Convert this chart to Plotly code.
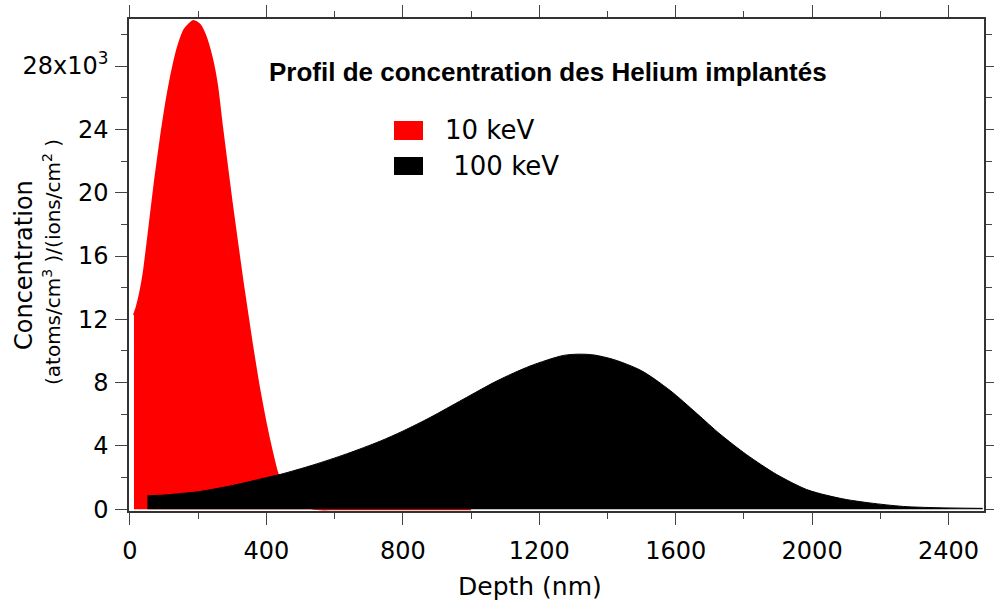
import plotly.graph_objects as go

# Implantation depth profiles (depth in nm, concentration in units of 10^3)
depth_10kev = [11.7, 20, 30, 40, 54, 73, 93, 112, 130, 142, 160, 186, 205, 220, 240,
               255, 269, 298, 330, 357, 376, 396, 415, 433, 460, 500, 530, 557, 600,
               700, 800, 900, 1000]
conc_10kev = [12.27, 12.8, 13.7, 14.9, 17.3, 20.7, 23.85, 26.4, 28.3, 29.3, 30.3, 30.85,
              30.6, 29.96, 28.5, 26.8, 24.3, 19.4, 14.4, 10.5, 7.96, 5.64, 3.75, 2.23,
              1.2, 0.35, 0.08, 0.0, 0.0, 0.0, 0.0, 0.0, 0.0]

depth_100kev = [51, 100, 150, 200, 300, 400, 440, 537, 635, 733, 801, 880, 977, 1075,
                1173, 1271, 1320, 1360, 1420, 1500, 1584, 1662, 1730, 1808, 1896, 1984,
                2040, 2100, 2170, 2268, 2366, 2500]
conc_100kev = [0.86, 0.9, 1.0, 1.11, 1.5, 2.0, 2.2, 2.8, 3.5, 4.3, 4.95, 5.8, 6.95,
               8.1, 9.05, 9.72, 9.8, 9.75, 9.45, 8.75, 7.5, 6.05, 4.75, 3.45, 2.2,
               1.25, 0.9, 0.62, 0.4, 0.18, 0.1, 0.06]

x_ticks = [0, 400, 800, 1200, 1600, 2000, 2400]
y_ticks = [0, 4, 8, 12, 16, 20, 24, 28]
y_ticktext = ["0", "4", "8", "12", "16", "20", "24", "28x10<sup>3</sup>"]

series_names = ["10 keV", " 100 keV"]
series_colors = ["#ff0000", "#000000"]

FONT = "DejaVu Sans"

fig = go.Figure()
fig.add_trace(go.Scatter(
    x=depth_10kev, y=conc_10kev, mode="lines", fill="tozeroy",
    line=dict(color=series_colors[0], width=2, shape="spline", smoothing=0.6),
    fillcolor=series_colors[0], showlegend=False, name=series_names[0]))
fig.add_trace(go.Scatter(
    x=depth_100kev, y=conc_100kev, mode="lines", fill="tozeroy",
    line=dict(color=series_colors[1], width=1, shape="spline", smoothing=0.8),
    fillcolor=series_colors[1], showlegend=False, name=series_names[1]))

axis_common = dict(
    showline=True, linecolor="#333333", linewidth=1.5, mirror="ticks",
    ticks="outside", ticklen=12, tickwidth=1, tickcolor="#444444",
    showgrid=False, zeroline=False,
    tickfont=dict(family=FONT, size=24, color="black"),
)

fig.update_xaxes(
    range=[-2.9, 2504], tickvals=x_ticks, ticklabelstandoff=5,
    minor=dict(dtick=200, ticks="outside", ticklen=6, tickcolor="#444444", showgrid=False),
    **axis_common)
fig.update_yaxes(
    range=[-0.107, 30.97], tickvals=y_ticks, ticktext=y_ticktext, ticklabelstandoff=2,
    minor=dict(dtick=2, ticks="outside", ticklen=6, tickcolor="#444444", showgrid=False),
    **axis_common)

# text positions in page pixels
annotations = [
    dict(text="<b>Profil de concentration des Helium implantés</b>", x=548, y=72,
         font=dict(family="Liberation Sans", size=26, color="black")),
    dict(text="Depth (nm)", x=530, y=586,
         font=dict(family=FONT, size=25, color="black")),
    dict(text="Concentration", x=24, y=265, textangle=-90,
         font=dict(family=FONT, size=24, color="black")),
    dict(text="(atoms/cm<sup>3</sup> )/(ions/cm<sup>2</sup> )", x=52, y=262, textangle=-90,
         font=dict(family=FONT, size=20, color="black")),
    dict(text=series_names[0], x=443, y=130, xanchor="left",
         font=dict(family=FONT, size=26, color="black")),
    dict(text=series_names[1], x=443, y=166, xanchor="left",
         font=dict(family=FONT, size=26, color="black")),
]

W, H = 994, 602
L, R, T, B = 129, 10, 19, 91
pw, ph = W - L - R, H - T - B

# convert page pixels into paper coordinates of the plotting area
ann_out = []
for src in annotations:
    a = dict(src)
    a["x"] = (src["x"] - L) / pw
    a["y"] = 1 - (src["y"] - T) / ph
    a.setdefault("xanchor", "center")
    a.setdefault("yanchor", "middle")
    a.update(xref="paper", yref="paper", showarrow=False)
    ann_out.append(a)

# legend swatches
shapes = []
for c, (y0, y1) in zip(series_colors, [(121, 140), (157, 175)]):
    shapes.append(dict(type="rect", xref="paper", yref="paper",
                       x0=(394 - L) / pw, x1=(423 - L) / pw,
                       y0=1 - (y1 - T) / ph, y1=1 - (y0 - T) / ph,
                       fillcolor=c, line=dict(width=0)))

fig.update_layout(
    width=W, height=H,
    margin=dict(l=L, r=R, t=T, b=B, autoexpand=False),
    paper_bgcolor="white", plot_bgcolor="white",
    annotations=ann_out, shapes=shapes,
    showlegend=False,
)

fig.write_html("out.html")
